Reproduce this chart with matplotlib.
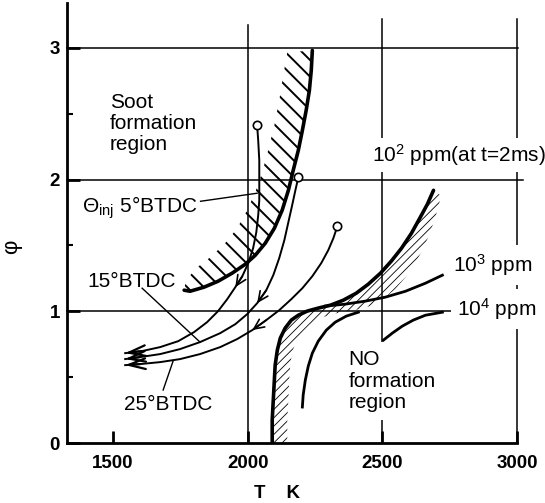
import matplotlib
matplotlib.use("Agg")
import matplotlib.pyplot as plt
from matplotlib.patches import FancyArrowPatch

plt.rcParams['font.family'] = ['Liberation Sans', 'DejaVu Sans']
plt.rcParams['mathtext.fontset'] = 'custom'
plt.rcParams['mathtext.rm'] = 'Liberation Sans'
plt.rcParams['mathtext.it'] = 'Liberation Sans:italic'
plt.rcParams['mathtext.bf'] = 'Liberation Sans:bold'

# --- data (T in K, phi) ---
x_ticks = [1500, 2000, 2500, 3000]
y_ticks = [0, 1, 2, 3]
y_minor = [0.5, 1.5, 2.5]

grid_T = [2000, 2500, 3000]
grid_T_top = [3.17, 3.22, 3.22]
grid_phi = [1, 2, 3]
grid_phi_end = [3000, 3024, 3005]

# soot formation boundary (thick line) and inner edge of hatched band
soot_T = [2240, 2236, 2229, 2217, 2203, 2188, 2169, 2151, 2128, 2099, 2065, 2028,
          1991, 1942, 1890, 1838, 1786, 1764]
soot_phi = [2.980, 2.828, 2.676, 2.524, 2.373, 2.222, 2.070, 1.918, 1.767, 1.630,
            1.516, 1.425, 1.357, 1.289, 1.228, 1.183, 1.152, 1.160]
soot_in_T = [2147, 2132, 2117, 2099, 2076, 2054, 2028, 1998, 1961, 1913, 1861, 1809,
             1771, 1764]
soot_in_phi = [2.965, 2.790, 2.601, 2.411, 2.222, 2.055, 1.903, 1.767, 1.630, 1.509,
               1.410, 1.327, 1.236, 1.160]

# NO 10^2 ppm boundary (thick) and inner edge of hatched band
no_T = [2091, 2091, 2095, 2099, 2102, 2110, 2121, 2139, 2162, 2188, 2221, 2262, 2307,
        2355, 2403, 2448, 2493, 2533, 2571, 2608, 2641, 2667, 2690]
no_phi = [0, 0.174, 0.326, 0.478, 0.591, 0.705, 0.796, 0.872, 0.933, 0.970, 1.001,
          1.024, 1.046, 1.084, 1.137, 1.206, 1.289, 1.380, 1.478, 1.592, 1.714, 1.812,
          1.918]
no_in_T = [2147, 2147, 2151, 2154, 2158, 2165, 2180, 2203, 2232, 2270, 2314, 2366,
           2418, 2463, 2507, 2548, 2586, 2619, 2649, 2675, 2697, 2712, 2716]
no_in_phi = [0, 0.174, 0.326, 0.478, 0.591, 0.690, 0.773, 0.842, 0.902, 0.948, 0.978,
             1.001, 1.016, 1.046, 1.099, 1.168, 1.259, 1.357, 1.463, 1.585, 1.714,
             1.827, 1.880]

# 10^3 and 10^4 ppm contours
ppm3_T = [2288, 2362, 2437, 2511, 2586, 2660, 2723]
ppm3_phi = [1.039, 1.054, 1.077, 1.107, 1.152, 1.213, 1.274]
ppm4a_T = [2203, 2206, 2214, 2225, 2240, 2262, 2292, 2325, 2366, 2411]
ppm4a_phi = [0.273, 0.364, 0.478, 0.584, 0.682, 0.773, 0.857, 0.917, 0.963, 0.993]
ppm4b_T = [2504, 2537, 2574, 2615, 2660, 2723]
ppm4b_phi = [0.781, 0.834, 0.887, 0.933, 0.970, 0.993]

# injection timing trajectories
traj5_T = [2035, 2039, 2043, 2043, 2043, 2039, 2032, 2020, 2002, 1980, 1954, 1924,
           1890, 1849, 1801, 1742, 1675, 1608, 1545]
traj5_phi = [2.411, 2.297, 2.146, 1.994, 1.842, 1.729, 1.600, 1.478, 1.365, 1.266,
             1.183, 1.092, 1.001, 0.917, 0.842, 0.773, 0.728, 0.698, 0.682]
traj15_T = [2188, 2177, 2165, 2151, 2136, 2117, 2095, 2069, 2035, 1998, 1954, 1898,
            1823, 1749, 1675, 1600, 1545]
traj15_phi = [2.017, 1.918, 1.804, 1.676, 1.539, 1.403, 1.274, 1.160, 1.061, 0.978,
              0.902, 0.834, 0.766, 0.713, 0.675, 0.652, 0.637]
traj25_T = [2333, 2318, 2299, 2273, 2240, 2203, 2162, 2117, 2069, 2017, 1961, 1898,
            1823, 1749, 1675, 1600, 1545]
traj25_phi = [1.645, 1.554, 1.463, 1.365, 1.266, 1.175, 1.092, 1.008, 0.933, 0.857,
              0.789, 0.728, 0.675, 0.637, 0.614, 0.599, 0.591]
mid_arrow_idx = [10, 8, 9]

fig = plt.figure(figsize=(5.45, 5.03), dpi=100)
ax = fig.add_axes([67 / 545, 1 - 443 / 503, 450 / 545, 440 / 503])
ax.set_xlim(1329, 3000)
ax.set_ylim(0, 3.34)

for s in ['top', 'right']:
    ax.spines[s].set_visible(False)
for s in ['left', 'bottom']:
    ax.spines[s].set_linewidth(2)

ax.set_xticks(x_ticks)
ax.set_yticks(y_ticks)
ax.set_yticks(y_minor, minor=True)
ax.tick_params(axis='both', direction='in', width=2, length=9, labelsize=13.5)
ax.tick_params(axis='x', pad=9)
ax.tick_params(axis='y', pad=5)
ax.tick_params(axis='y', which='minor', direction='in', width=1.5, length=4)
plt.setp(ax.get_xticklabels() + ax.get_yticklabels(), fontweight='bold')

# grid lines
for t, top in zip(grid_T, grid_T_top):
    ax.plot([t, t], [0, top], color='black', lw=1.1, zorder=1, clip_on=False)
for p, end in zip(grid_phi, grid_phi_end):
    ax.plot([1329, end], [p, p], color='black', lw=1.1, zorder=1, clip_on=False)

# hatched bands
def hatch_band(T_out, p_out, T_in, p_in, pattern, hlw):
    with plt.rc_context({'hatch.linewidth': hlw}):
        poly = ax.fill(T_out + T_in[::-1], p_out + p_in[::-1], facecolor='none',
                       edgecolor='black', linewidth=0, hatch=pattern, zorder=1.5)[0]
    if hasattr(poly, 'set_hatch_linewidth'):
        poly.set_hatch_linewidth(hlw)

hatch_band(soot_T, soot_phi, soot_in_T, soot_in_phi, '\\\\', 1.4)
hatch_band(no_T, no_phi, no_in_T, no_in_phi, '////', 0.6)

ax.plot(soot_T, soot_phi, color='black', lw=2.6, zorder=2, solid_capstyle='round')
ax.plot(no_T, no_phi, color='black', lw=2.6, zorder=2, solid_capstyle='round')
ax.plot(ppm3_T, ppm3_phi, color='black', lw=2.0, zorder=2)
ax.plot(ppm4a_T, ppm4a_phi, color='black', lw=2.0, zorder=2)
ax.plot(ppm4b_T, ppm4b_phi, color='black', lw=2.0, zorder=2)

# trajectories
for (tT, tp), mi in zip([(traj5_T, traj5_phi), (traj15_T, traj15_phi),
                         (traj25_T, traj25_phi)], mid_arrow_idx):
    ax.plot(tT, tp, color='black', lw=1.4, zorder=3)
    ax.plot(tT[0], tp[0], marker='o', ms=6, mfc='white', mec='black', mew=1.2, zorder=4)
    ax.add_patch(FancyArrowPatch((tT[-2], tp[-2]), (tT[-1], tp[-1]),
                                 arrowstyle='->,head_length=1.0,head_width=0.32',
                                 mutation_scale=12, lw=1.6, color='black',
                                 shrinkA=0, shrinkB=0, zorder=3))
    ax.add_patch(FancyArrowPatch((tT[mi - 1], tp[mi - 1]), (tT[mi], tp[mi]),
                                 arrowstyle='->,head_length=0.6,head_width=0.28',
                                 mutation_scale=12, lw=1.2, color='black',
                                 shrinkA=0, shrinkB=0, zorder=3))

# leader lines
ax.plot([1825, 2035], [1.835, 1.896], color='black', lw=1.0, zorder=3)
ax.plot([1608, 1823], [1.175, 0.766], color='black', lw=1.0, zorder=3)
ax.plot([1686, 1723], [0.402, 0.622], color='black', lw=1.0, zorder=3)

fs = 15
ax.text(1489, 2.426, 'Soot\nformation\nregion', fontsize=fs, ha='left', va='center',
        linespacing=1.15, zorder=5)
ax.text(1385, 1.789, r'$\Theta_{\mathrm{inj}}$ 5°BTDC', fontsize=fs, ha='left',
        va='center', zorder=5)
ax.text(1403, 1.228, '15°BTDC', fontsize=fs, ha='left', va='center', zorder=5)
ax.text(1541, 0.296, '25°BTDC', fontsize=fs, ha='left', va='center', zorder=5)
ax.text(2463, 2.184, r'10$^2$ ppm(at t=2ms)', fontsize=fs, ha='left', va='center',
        zorder=5, bbox=dict(facecolor='white', edgecolor='none', pad=3), clip_on=False)
ax.text(2764, 1.35, r'10$^3$ ppm', fontsize=fs, ha='left', va='center', zorder=5,
        bbox=dict(facecolor='white', edgecolor='none', pad=5), clip_on=False)
ax.text(2779, 1.016, r'10$^4$ ppm', fontsize=fs, ha='left', va='center', zorder=5,
        bbox=dict(facecolor='white', edgecolor='none', pad=5), clip_on=False)
ax.text(2374, 0.47, 'NO\nformation\nregion', fontsize=fs, ha='left', va='center',
        linespacing=1.15, zorder=5, bbox=dict(facecolor='white', edgecolor='none', pad=6))

ax.set_ylabel('φ', fontsize=16)
ax.yaxis.set_label_coords(-0.100, 0.445)
ax.set_xlabel('T    K', fontsize=13.5, fontweight='bold')
ax.xaxis.set_label_coords(0.466, -0.096)

fig.savefig('out.png', dpi=100)
